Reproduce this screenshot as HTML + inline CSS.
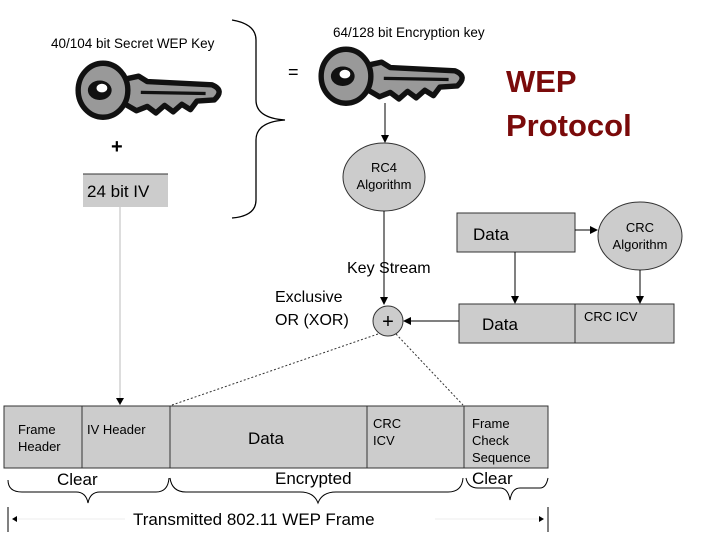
<!DOCTYPE html>
<html><head><style>
body{margin:0;background:#fff;}
svg{display:block;font-family:"Liberation Sans",sans-serif;}
</style></head><body>
<svg width="720" height="540" viewBox="0 0 720 540" xmlns="http://www.w3.org/2000/svg">
<defs>
<marker id="ah" markerWidth="8" markerHeight="8" refX="7" refY="4" orient="auto" markerUnits="userSpaceOnUse"><path d="M0,0 L8,4 L0,8 Z" fill="#000"/></marker>
</defs>
<!-- key 1 -->
<g transform="translate(76,60) scale(1.08)">
<path d="M44,18 L58,15 L66,20 L126,23 Q138,28 128,37 L112,38 L106,46 L98,41 L90,48 L82,42 L74,49 L66,43 L56,47 L44,40 Z" fill="#999" stroke="#111" stroke-width="5" stroke-linejoin="round"/>
<ellipse cx="25" cy="28" rx="23" ry="25" fill="#999" stroke="#111" stroke-width="5"/>
<ellipse cx="22" cy="28" rx="11" ry="9" fill="#111"/>
<ellipse cx="24" cy="26" rx="5" ry="4" fill="#fff"/>
<path d="M60,30 L120,31" stroke="#111" stroke-width="3"/>
</g>
<!-- key 2 -->
<g transform="translate(319,46) scale(1.08)">
<path d="M44,18 L58,15 L66,20 L126,23 Q138,28 128,37 L112,38 L106,46 L98,41 L90,48 L82,42 L74,49 L66,43 L56,47 L44,40 Z" fill="#999" stroke="#111" stroke-width="5" stroke-linejoin="round"/>
<ellipse cx="25" cy="28" rx="23" ry="25" fill="#999" stroke="#111" stroke-width="5"/>
<ellipse cx="22" cy="28" rx="11" ry="9" fill="#111"/>
<ellipse cx="24" cy="26" rx="5" ry="4" fill="#fff"/>
<path d="M60,30 L120,31" stroke="#111" stroke-width="3"/>
</g>
<text x="51" y="48" font-size="13.5">40/104 bit Secret WEP Key</text>
<text x="333" y="37" font-size="13.5">64/128 bit  Encryption key</text>
<text x="288" y="78" font-size="18">=</text>
<text x="111" y="153" font-size="20" font-weight="bold">+</text>
<rect x="83" y="174" width="85" height="33" fill="#ccc"/>
<line x1="83" y1="174" x2="168" y2="174" stroke="#333"/>
<text x="87" y="197" font-size="17">24 bit IV</text>
<!-- brace -->
<path d="M232,20 Q256,24 256,40 L256,100 Q256,118 285,120 Q256,122 256,140 L256,200 Q256,216 232,218" fill="none" stroke="#000" stroke-width="1.3"/>
<text x="506" y="92" font-size="31" font-weight="bold" fill="#7a0a0a">WEP</text>
<text x="506" y="136" font-size="31" font-weight="bold" fill="#7a0a0a">Protocol</text>
<!-- RC4 -->
<line x1="385" y1="103" x2="385" y2="142" stroke="#000" marker-end="url(#ah)"/>
<ellipse cx="384" cy="177" rx="41" ry="34" fill="#ccc" stroke="#333"/>
<text x="384" y="172" font-size="13" text-anchor="middle">RC4</text>
<text x="384" y="189" font-size="13" text-anchor="middle">Algorithm</text>
<line x1="384" y1="211" x2="384" y2="304" stroke="#000" marker-end="url(#ah)"/>
<text x="347" y="273" font-size="16">Key Stream</text>
<text x="275" y="302" font-size="16">Exclusive</text>
<text x="275" y="325" font-size="16">OR (XOR)</text>
<circle cx="388" cy="321" r="15" fill="#ccc" stroke="#333"/>
<text x="388" y="328" font-size="20" text-anchor="middle">+</text>
<!-- data top -->
<rect x="457" y="213" width="118" height="39" fill="#ccc" stroke="#333"/>
<text x="473" y="240" font-size="17">Data</text>
<line x1="575" y1="230" x2="597" y2="230" stroke="#000" marker-end="url(#ah)"/>
<ellipse cx="640" cy="236" rx="42" ry="34" fill="#ccc" stroke="#333"/>
<text x="640" y="232" font-size="13" text-anchor="middle">CRC</text>
<text x="640" y="249" font-size="13" text-anchor="middle">Algorithm</text>
<line x1="515" y1="252" x2="515" y2="303" stroke="#000" marker-end="url(#ah)"/>
<line x1="640" y1="270" x2="640" y2="303" stroke="#000" marker-end="url(#ah)"/>
<rect x="459" y="304" width="215" height="39" fill="#ccc" stroke="#333"/>
<line x1="575" y1="304" x2="575" y2="343" stroke="#333"/>
<text x="482" y="330" font-size="17">Data</text>
<text x="584" y="321" font-size="13">CRC ICV</text>
<line x1="459" y1="321" x2="404" y2="321" stroke="#000" marker-end="url(#ah)"/>
<!-- dotted -->
<line x1="378" y1="334" x2="172" y2="405" stroke="#333" stroke-dasharray="2,2"/>
<line x1="396" y1="334" x2="463" y2="405" stroke="#333" stroke-dasharray="2,2"/>
<!-- IV line -->
<line x1="120" y1="207" x2="120" y2="405" stroke="#bbb"/>
<path d="M116,398 L124,398 L120,405 Z" fill="#000"/>
<!-- frame -->
<rect x="4" y="406" width="544" height="62" fill="#ccc" stroke="#333"/>
<line x1="82" y1="406" x2="82" y2="468" stroke="#333"/>
<line x1="170" y1="406" x2="170" y2="468" stroke="#333"/>
<line x1="367" y1="406" x2="367" y2="468" stroke="#333"/>
<line x1="464" y1="406" x2="464" y2="468" stroke="#333"/>
<text x="18" y="434" font-size="13">Frame</text>
<text x="18" y="451" font-size="13">Header</text>
<text x="87" y="434" font-size="13">IV Header</text>
<text x="248" y="444" font-size="17">Data</text>
<text x="373" y="428" font-size="13">CRC</text>
<text x="373" y="445" font-size="13">ICV</text>
<text x="472" y="428" font-size="13">Frame</text>
<text x="472" y="445" font-size="13">Check</text>
<text x="472" y="462" font-size="13">Sequence</text>
<text x="57" y="485" font-size="17">Clear</text>
<text x="275" y="484" font-size="17">Encrypted</text>
<text x="472" y="484" font-size="17">Clear</text>
<!-- bottom braces -->
<path d="M8,480 Q8,492 22,492 L76,492 Q86,492 88,503 Q90,492 100,492 L156,492 Q168,492 169,478" fill="none" stroke="#000"/>
<path d="M170,478 Q172,492 186,492 L300,492 Q314,492 318,503 Q322,492 336,492 L448,492 Q462,492 463,478" fill="none" stroke="#000"/>
<path d="M466,478 Q468,488 478,488 L500,488 Q508,488 510,500 Q512,488 520,488 L540,488 Q546,488 548,478" fill="none" stroke="#000"/>
<line x1="8" y1="507" x2="8" y2="532" stroke="#000"/>
<line x1="548" y1="507" x2="548" y2="532" stroke="#000"/>
<path d="M12,519 L17,516 L17,522 Z" fill="#000"/>
<path d="M544,519 L539,516 L539,522 Z" fill="#000"/>
<line x1="17" y1="519" x2="125" y2="519" stroke="#eee"/>
<line x1="435" y1="519" x2="539" y2="519" stroke="#eee"/>
<text x="133" y="525" font-size="17">Transmitted 802.11 WEP Frame</text>
</svg>
</body></html>
